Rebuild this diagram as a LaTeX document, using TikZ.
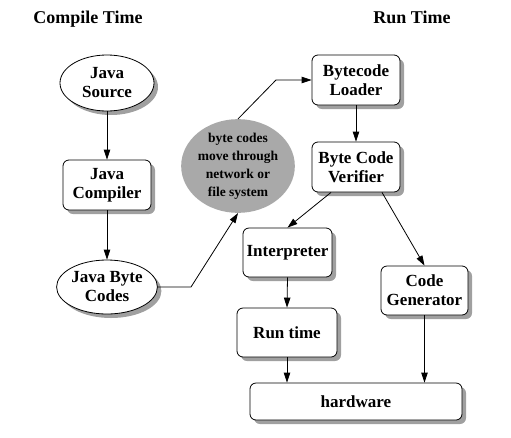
\documentclass[tikz,border=0pt]{standalone}
\usepackage{fontspec}
\setmainfont{Liberation Serif}
\usetikzlibrary{shapes.geometric,shadows,arrows.meta,calc}
\definecolor{shadowgray}{HTML}{A0A0A0}
\definecolor{netgray}{HTML}{A9A9A9}
\tikzset{
  base/.style={draw=black, line width=0.8pt, fill=white, align=center, inner sep=0pt,
    font=\fontsize{17}{19}\selectfont\bfseries,
    general shadow={fill=shadowgray, shadow xshift=4pt, shadow yshift=-4pt}},
  boxnode/.style={base, rectangle, rounded corners=6pt},
  ovalnode/.style={base, ellipse},
  netnode/.style={ellipse, fill=netgray, draw=none, align=center, inner sep=0pt,
    font=\fontsize{13.5}{18}\selectfont\bfseries},
  titlenode/.style={font=\fontsize{18}{20}\selectfont\bfseries, inner sep=0pt, anchor=base},
  conn/.style={line width=0.8pt, draw=black, -{Triangle[length=10pt,width=6.5pt]}},
  plainconn/.style={line width=0.8pt, draw=black}
}
\begin{document}
\begin{tikzpicture}[x=1pt,y=-1pt]
\useasboundingbox (0,0) rectangle (511,437);
\node[titlenode] (t1) at (88,23) {Compile Time};
\node[titlenode] (t2) at (412,23) {Run Time};

\node[ovalnode, minimum width=94pt, minimum height=56pt] (src) at (107,83) {Java\\Source};
\node[boxnode, minimum width=88pt, minimum height=50pt] (comp) at (107,185) {Java\\Compiler};
\node[ovalnode, minimum width=94pt, minimum height=54pt] (jbc) at (107,287) {Java Byte\\Codes};
\node[netnode, minimum width=112pt, minimum height=82pt] (net) at (238,166) {byte codes\\move through\\network or\\file system};

\node[boxnode, minimum width=88pt, minimum height=50pt] (loader) at (356,80) {Bytecode\\Loader};
\node[boxnode, minimum width=88pt, minimum height=50pt] (verif) at (356,167) {Byte Code\\Verifier};
\node[boxnode, minimum width=89pt, minimum height=49pt] (interp) at (287.5,252.5) {Interpreter};
\node[boxnode, minimum width=100pt, minimum height=49pt] (rt) at (287,332.5) {Run time};
\node[boxnode, minimum width=87pt, minimum height=49pt] (cg) at (424.5,290.5) {Code\\Generator};
\node[boxnode, minimum width=212pt, minimum height=37pt] (hw) at (356,401.5) {hardware};

\coordinate (c1) at (191,287);
\coordinate (c2) at (276,80);

\draw[conn] (src.south) -- (comp.north);
\draw[conn] (comp.south) -- (jbc.north);
\draw[conn] (jbc.east) -- (c1) -- (net.south);
\draw[conn] (net.north) -- (c2) -- (loader.west);
\draw[conn] (loader.south) -- (verif.north);
\draw[conn] ([xshift=-25pt]verif.south) -- (interp.north);
\draw[conn] ([xshift=26pt]verif.south) -- (cg.north);
\draw[conn] (interp.south) -- (rt.north);
\draw[conn] (rt.south) -- (rt.south |- hw.north);
\draw[conn] (cg.south) -- (cg.south |- hw.north);
\end{tikzpicture}
\end{document}
